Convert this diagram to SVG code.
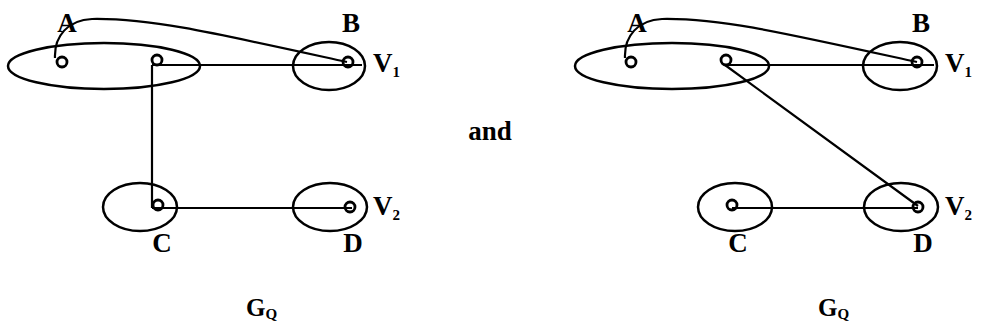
<svg xmlns="http://www.w3.org/2000/svg" width="990" height="333" viewBox="0 0 990 333">
<style>
.e{fill:none;stroke:#000;stroke-width:2.5}
.n{fill:none;stroke:#000;stroke-width:2.8}
.c{fill:none;stroke:#000;stroke-width:2.2}
text{font-family:"Liberation Serif","Times New Roman",serif;font-weight:bold;fill:#000}
.l{font-size:27px}
.s{font-size:15px}
.g{font-size:25px}
.q{font-size:15px}
</style>
<rect width="990" height="333" fill="#fff"/>
<g id="connectors">
<path class="c" d="M55,58 C54,36 68,20 92,19 C150,18 210,32 347,62"/>
<path class="c" d="M152,65 L362,65 M152,65 L152,208 M152,208 L352,208"/>
<path class="c" d="M625,58 C624,36 638,20 662,19 C720,18 780,32 917,62"/>
<path class="c" d="M725,65 L934,65 M725,65 L918,206 M732,208 L918,208"/>
</g>
<g id="left-V1">
<ellipse class="e" cx="104" cy="66" rx="96" ry="23"/>
<ellipse class="e" cx="329" cy="66" rx="36" ry="24"/>
<text class="l" x="373" y="72">V<tspan class="s" dy="5">1</tspan></text>
</g>
<g id="left-A"><circle class="n" cx="62" cy="62" r="5"/><text class="l" x="67" y="32" text-anchor="middle">A</text></g>
<g id="left-mid"><circle class="n" cx="157" cy="60" r="5"/></g>
<g id="left-B"><circle class="n" cx="348" cy="62" r="5"/><text class="l" x="351" y="32" text-anchor="middle">B</text></g>
<g id="left-V2">
<ellipse class="e" cx="140" cy="207" rx="37" ry="24"/>
<ellipse class="e" cx="330" cy="207" rx="37" ry="24"/>
<text class="l" x="373" y="215">V<tspan class="s" dy="5">2</tspan></text>
</g>
<g id="left-C"><circle class="n" cx="158" cy="205" r="5"/><text class="l" x="162" y="252" text-anchor="middle">C</text></g>
<g id="left-D"><circle class="n" cx="350" cy="207" r="5"/><text class="l" x="353" y="252" text-anchor="middle">D</text></g>
<g id="left-GQ"><text class="g" x="246" y="316">G<tspan class="q" dy="3">Q</tspan></text></g>
<g id="and"><text class="l" x="490" y="140" text-anchor="middle">and</text></g>
<g id="right-V1">
<ellipse class="e" cx="672" cy="66" rx="97" ry="23"/>
<ellipse class="e" cx="900" cy="66" rx="37" ry="24"/>
<text class="l" x="945" y="72">V<tspan class="s" dy="5">1</tspan></text>
</g>
<g id="right-A"><circle class="n" cx="631" cy="62" r="5"/><text class="l" x="637" y="32" text-anchor="middle">A</text></g>
<g id="right-mid"><circle class="n" cx="726" cy="60" r="5"/></g>
<g id="right-B"><circle class="n" cx="917" cy="62" r="5"/><text class="l" x="921" y="32" text-anchor="middle">B</text></g>
<g id="right-V2">
<ellipse class="e" cx="735" cy="207" rx="37" ry="24"/>
<ellipse class="e" cx="901" cy="207" rx="37" ry="24"/>
<text class="l" x="945" y="215">V<tspan class="s" dy="5">2</tspan></text>
</g>
<g id="right-C"><circle class="n" cx="732" cy="205" r="5"/><text class="l" x="738" y="252" text-anchor="middle">C</text></g>
<g id="right-D"><circle class="n" cx="918" cy="207" r="5"/><text class="l" x="923" y="252" text-anchor="middle">D</text></g>
<g id="right-GQ"><text class="g" x="818" y="316">G<tspan class="q" dy="3">Q</tspan></text></g>
</svg>
